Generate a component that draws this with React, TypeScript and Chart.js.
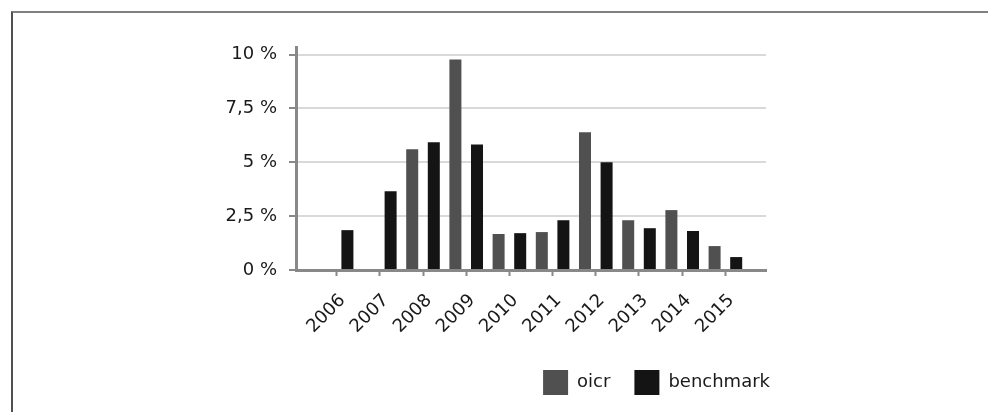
import React, { useEffect, useRef } from "react";
import { Chart, registerables, CategoryScale } from "chart.js";

Chart.register(...registerables);

class PaddedCategoryScale extends CategoryScale {
  static id = "paddedCategory";
  static defaults = { ...(CategoryScale as any).defaults };
  buildTicks() {
    const ticks = (super.buildTicks as any)();
    const pad = (this.options as any).edgePad || 0;
    (this as any)._startValue -= pad;
    (this as any)._valueRange += 2 * pad;
    return ticks;
  }
}
Chart.register(PaddedCategoryScale as any);

const categories = ["2006", "2007", "2008", "2009", "2010", "2011", "2012", "2013", "2014", "2015"];
const oicrValues = [0, 0, 5.6, 9.77, 1.67, 1.76, 6.39, 2.31, 2.78, 1.11];
const benchmarkValues = [1.85, 3.66, 5.93, 5.83, 1.71, 2.31, 5.0, 1.94, 1.81, 0.6];
const yTicks = [0, 2.5, 5, 7.5, 10];
const yTickLabels = ["0 %", "2,5 %", "5 %", "7,5 %", "10 %"];

const FONT = "'DejaVu Sans', sans-serif";

export default function App() {
  const ref = useRef<HTMLCanvasElement | null>(null);

  useEffect(() => {
    if (!ref.current) return;
    Chart.defaults.font.family = FONT;
    const chart = new Chart(ref.current, {
      type: "bar",
      data: {
        labels: categories,
        datasets: [
          {
            label: "oicr",
            data: oicrValues,
            backgroundColor: "#505050",
            categoryPercentage: 1,
            barPercentage: 0.556,
          },
          {
            label: "benchmark",
            data: benchmarkValues,
            backgroundColor: "#141414",
            categoryPercentage: 1,
            barPercentage: 0.556,
          },
        ],
      },
      options: {
        animation: false,
        responsive: false,
        layout: { padding: { left: 0, right: 194, top: 34, bottom: 7 } },
        plugins: {
          tooltip: { enabled: false },
          legend: {
            position: "bottom",
            align: "end",
            labels: {
              boxWidth: 25,
              boxHeight: 25,
              padding: 24,
              color: "#1a1a1a",
              font: { size: 18, family: FONT },
            },
          },
        },
        scales: {
          x: {
            type: "paddedCategory" as any,
            edgePad: 0.44,
            offset: true,
            grid: {
              offset: false,
              drawOnChartArea: false,
              drawTicks: true,
              tickLength: 6,
              tickWidth: 2,
              tickColor: "#888888",
            },
            border: { display: true, color: "#888888", width: 3 },
            ticks: {
              minRotation: 45,
              maxRotation: 45,
              color: "#1a1a1a",
              font: { size: 18, family: FONT },
              padding: 14,
              labelOffset: 6,
            },
            afterFit: (s: any) => {
              s.height = 76;
            },
          } as any,
          y: {
            min: 0,
            max: 10.35,
            afterBuildTicks: (s: any) => {
              s.ticks = yTicks.map((v) => ({ value: v }));
            },
            grid: {
              color: "#d9d9d9",
              lineWidth: 2,
              tickLength: 7,
              tickWidth: 2,
              tickColor: "#888888",
            },
            border: { display: true, color: "#888888", width: 3 },
            ticks: {
              color: "#1a1a1a",
              font: { size: 18, family: FONT },
              padding: 12,
              callback: (_v: any, i: number) => yTickLabels[i],
            },
            afterFit: (s: any) => {
              s.width = 283;
            },
          },
          spacer: {
            type: "linear",
            position: "right",
            display: true,
            grid: { display: false, drawTicks: false },
            border: { display: false },
            ticks: { display: false },
            afterFit: (s: any) => {
              s.width = 28;
            },
          },
        },
      } as any,
    });
    return () => chart.destroy();
  }, []);

  return (
    <div
      style={{
        position: "absolute",
        left: 11,
        top: 11,
        right: 0,
        bottom: 0,
        borderTop: "2px solid #808080",
        borderLeft: "2px solid #505050",
        overflow: "hidden",
        background: "#fff",
      }}
    >
      <canvas ref={ref} width={975} height={399} style={{ display: "block" }} />
    </div>
  );
}
